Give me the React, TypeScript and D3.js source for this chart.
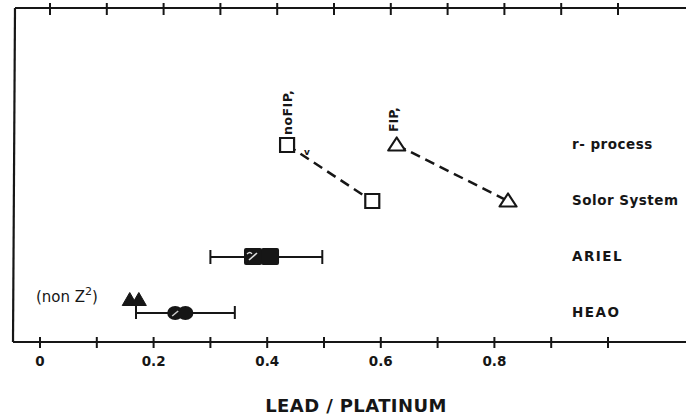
import * as d3 from "d3";
import { useEffect } from "react";

// rows (top to bottom)
const rowLabels = ["r- process", "Solor System", "ARIEL", "HEAO"];
const rowIndex = [0, 1, 2, 3];

// x axis
const xTicks = [0, 0.1, 0.2, 0.3, 0.4, 0.5, 0.6, 0.7, 0.8, 0.9, 1.0];
const xLabelValues = [0, 0.2, 0.4, 0.6, 0.8];
const xLabelText = ["0", "0.2", "0.4", "0.6", "0.8"];

// lead/platinum values for r-process (row 0) and solar system (row 1)
const noFipValues = [0.435, 0.585];
const fipValues = [0.628, 0.824];

// measurements
const arielRange = [0.3, 0.497];
const arielPoints = [0.375, 0.405];
const heaoRange = [0.169, 0.343];
const heaoPoints = [0.238, 0.256];
const nonZ2Points = [0.158, 0.174];
const nonZ2Row = 2.75;

const W = 686;
const H = 415;
const ink = "#161616";
const font = "'DejaVu Sans', sans-serif";

const App = () => {
  useEffect(() => {
    document.body.style.margin = "0";
  }, []);

  const x = d3.scaleLinear().domain([0, 1]).range([40, 608]);
  // scanned page is slightly skewed: top ticks sit ~10px to the right
  const xTop = d3.scaleLinear().domain([0, 1]).range([50, 618]);
  const y = d3.scaleLinear().domain([0, 3]).range([145, 313]);

  const axisY = 342;
  const topY = 8;
  const leftX = 13;

  const square = (cx: number, cy: number, s: number) =>
    `M${cx - s / 2},${cy - s / 2}h${s}v${s}h${-s}Z`;
  const tri = (cx: number, cy: number, w: number, h: number) =>
    `M${cx},${cy - h / 2}L${cx + w / 2},${cy + h / 2}L${cx - w / 2},${cy + h / 2}Z`;

  const arielY = y(2);
  const heaoY = y(3);

  return (
    <svg width={W} height={H} style={{ display: "block", background: "#fff" }}>
      {/* frame */}
      <line x1={leftX} x2={W} y1={axisY} y2={axisY} stroke={ink} strokeWidth={2.2} />
      <line x1={leftX + 2} x2={W} y1={topY} y2={topY} stroke={ink} strokeWidth={2.2} />
      <line x1={leftX + 2} x2={leftX} y1={topY} y2={axisY} stroke={ink} strokeWidth={2.2} />

      {xTicks.map((t) => (
        <line key={"b" + t} x1={x(t)} x2={x(t)} y1={axisY - 5} y2={axisY + 6} stroke={ink} strokeWidth={2} />
      ))}
      {xTicks.map((t) => (
        <line key={"t" + t} x1={xTop(t)} x2={xTop(t)} y1={topY - 5} y2={topY + 7} stroke={ink} strokeWidth={2} />
      ))}
      {xLabelValues.map((v, i) => (
        <text key={"l" + v} x={x(v)} y={366} textAnchor="middle" fontFamily={font} fontWeight="bold" fontSize={13.5} fill={ink}>
          {xLabelText[i]}
        </text>
      ))}
      <text x={356} y={412} textAnchor="middle" fontFamily={font} fontWeight="bold" fontSize={18} letterSpacing={0.4} fill={ink}>
        LEAD / PLATINUM
      </text>

      {/* row labels */}
      {rowIndex.map((r) => (
        <text key={"r" + r} x={572} y={y(r) + 4} fontFamily={font} fontWeight="bold" fontSize={13.5} letterSpacing={r >= 2 ? 1.5 : 0.5} fill={ink}>
          {rowLabels[r]}
        </text>
      ))}

      {/* dashed tracks r-process -> solar system */}
      <line x1={x(noFipValues[0])} y1={y(0)} x2={x(noFipValues[1])} y2={y(1)} stroke={ink} strokeWidth={2.5} strokeDasharray="10,6" />
      <line x1={x(fipValues[0])} y1={y(0)} x2={x(fipValues[1])} y2={y(1)} stroke={ink} strokeWidth={2.5} strokeDasharray="10,6" />

      {noFipValues.map((v, i) => (
        <path key={"sq" + i} d={square(x(v), y(i), 14)} fill="#fff" stroke={ink} strokeWidth={2.2} />
      ))}
      {fipValues.map((v, i) => (
        <path key={"tr" + i} d={tri(x(v), y(i) - 1, 17, 13)} fill="#fff" stroke={ink} strokeWidth={2.2} strokeLinejoin="round" />
      ))}

      <text transform={`translate(${x(noFipValues[0]) + 5},${y(0) - 10}) rotate(-90)`} fontFamily={font} fontWeight="bold" fontSize={12.5} letterSpacing={0.5} fill={ink}>
        noFIP,
      </text>
      <text transform={`translate(${x(fipValues[0]) + 1},${y(0) - 13}) rotate(-90)`} fontFamily={font} fontWeight="bold" fontSize={12.5} fill={ink}>
        FIP,
      </text>
      <text x={x(noFipValues[0]) + 17} y={y(0) + 10} fontFamily={font} fontWeight="bold" fontSize={9} fill={ink}>
        v
      </text>

      {/* ARIEL */}
      <line x1={x(arielRange[0])} x2={x(arielRange[1])} y1={arielY} y2={arielY} stroke={ink} strokeWidth={2} />
      {arielRange.map((v) => (
        <line key={"ac" + v} x1={x(v)} x2={x(v)} y1={arielY - 7} y2={arielY + 7} stroke={ink} strokeWidth={2} />
      ))}
      {arielPoints.map((v, i) => (
        <rect key={"ap" + i} x={x(v) - 9} y={arielY - 9} width={18} height={17} rx={2} fill={ink} />
      ))}
      <path d={`M${x(arielPoints[0]) - 4},${arielY + 3}L${x(arielPoints[0]) + 4},${arielY - 4}`} stroke="#ddd" strokeWidth={1.6} />
      <path d={`M${x(arielPoints[0]) - 6},${arielY - 3}q3,-3 5,0`} stroke="#ddd" strokeWidth={1.3} fill="none" />

      {/* HEAO */}
      <line x1={x(heaoRange[0])} x2={x(heaoRange[1])} y1={heaoY} y2={heaoY} stroke={ink} strokeWidth={2} />
      {heaoRange.map((v) => (
        <line key={"hc" + v} x1={x(v)} x2={x(v)} y1={heaoY - 7} y2={heaoY + 6} stroke={ink} strokeWidth={2} />
      ))}
      {heaoPoints.map((v, i) => (
        <ellipse key={"hp" + i} cx={x(v)} cy={heaoY} rx={8} ry={7} fill={ink} />
      ))}
      <path d={`M${x(heaoPoints[0]) - 3},${heaoY + 3}L${x(heaoPoints[0]) + 3},${heaoY - 2}`} stroke="#ccc" strokeWidth={1.5} />

      {/* non Z^2 */}
      {nonZ2Points.map((v, i) => (
        <path key={"nz" + i} d={tri(x(v), y(nonZ2Row), 15, 13)} fill={ink} stroke={ink} strokeWidth={1} strokeLinejoin="round" />
      ))}
      <text x={36} y={302} fontFamily={font} fontSize={15} fill={ink}>
        (non Z<tspan dy={-7} fontSize={11}>2</tspan><tspan dy={7}>)</tspan>
      </text>
    </svg>
  );
};

export default App;
